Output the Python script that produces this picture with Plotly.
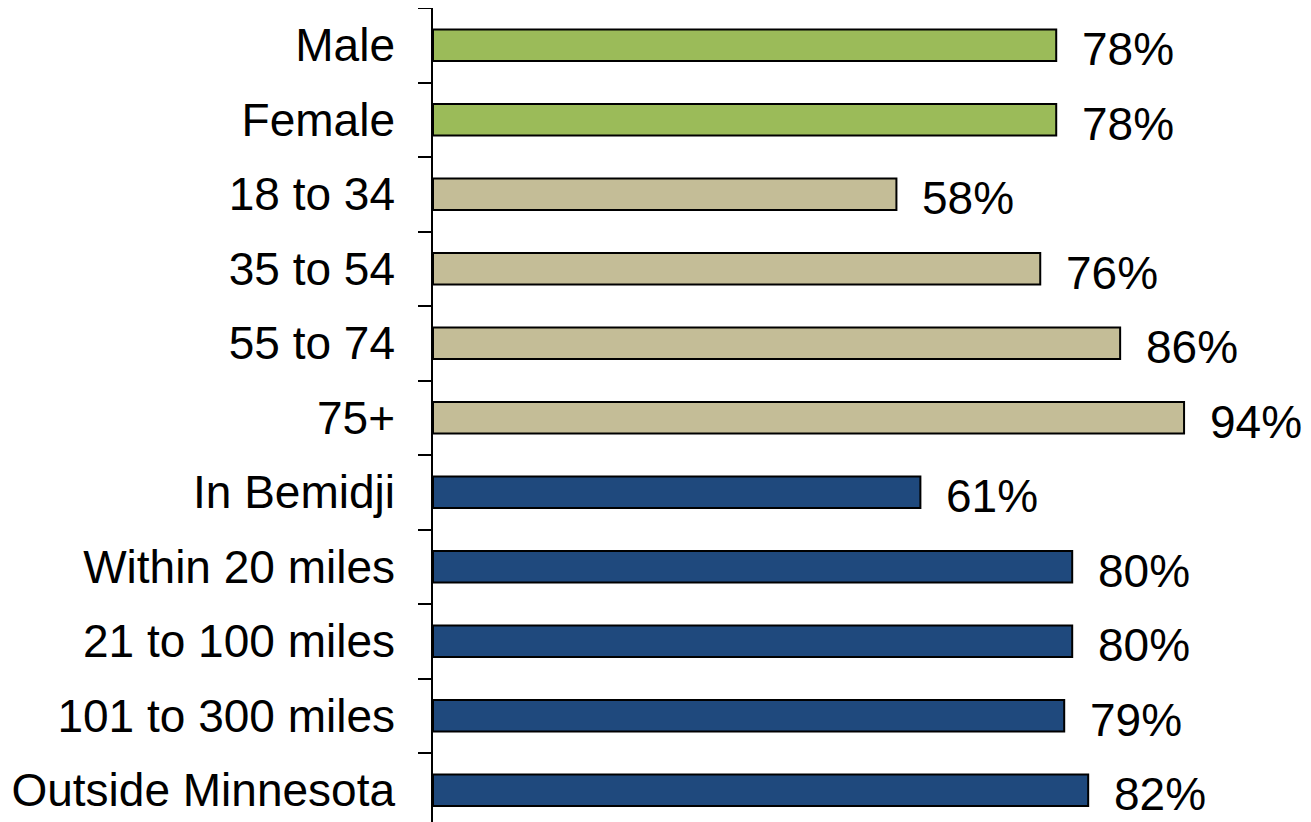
import plotly.graph_objects as go

# Data
categories = [
    "Male", "Female",
    "18 to 34", "35 to 54", "55 to 74", "75+",
    "In Bemidji", "Within 20 miles", "21 to 100 miles", "101 to 300 miles", "Outside Minnesota",
]
values = [78, 78, 58, 76, 86, 94, 61, 80, 80, 79, 82]
groups = ["gender", "gender", "age", "age", "age", "age",
          "distance", "distance", "distance", "distance", "distance"]

# Colour per group
group_colors = {"gender": "#9BBB59", "age": "#C4BD97", "distance": "#1F497D"}
bar_colors = [group_colors[g] for g in groups]

FONT = "Liberation Sans, Arial, sans-serif"

fig = go.Figure(go.Bar(
    x=values,
    y=categories,
    orientation="h",
    marker={"color": bar_colors, "line": {"color": "#000000", "width": 2}},
    width=0.42,
    hoverinfo="skip",
))

# value labels to the right of each bar
for cat, val in zip(categories, values):
    fig.add_annotation(
        x=val, y=cat, text=f"{val}%",
        xanchor="left", yanchor="middle",
        xshift=24, yshift=-4,
        showarrow=False,
        font={"size": 46, "family": FONT, "color": "#000000"},
    )

# the page body adds ~8px offset, so margins are compensated
fig.update_layout(
    width=1311,
    height=822,
    paper_bgcolor="#ffffff",
    plot_bgcolor="#ffffff",
    showlegend=False,
    margin={"l": 425, "r": 87, "t": 0, "b": 8, "autoexpand": False},
    font={"family": FONT, "color": "#000000"},
    xaxis={
        "range": [0, 100],
        "visible": False,
        "showgrid": False,
        "zeroline": False,
        "automargin": False,
    },
    yaxis={
        "type": "category",
        "categoryorder": "array",
        "categoryarray": categories,
        "range": [10.426, -0.5],
        "automargin": False,
        "showline": True,
        "linecolor": "#000000",
        "linewidth": 1.6,
        "ticks": "outside",
        "tickson": "boundaries",
        "ticklen": 13,
        "tickwidth": 1.6,
        "tickcolor": "#000000",
        "ticklabelstandoff": 27,
        "tickfont": {"size": 46, "family": FONT, "color": "#000000"},
        "showgrid": False,
        "zeroline": False,
    },
)

fig.write_html("out.html")
